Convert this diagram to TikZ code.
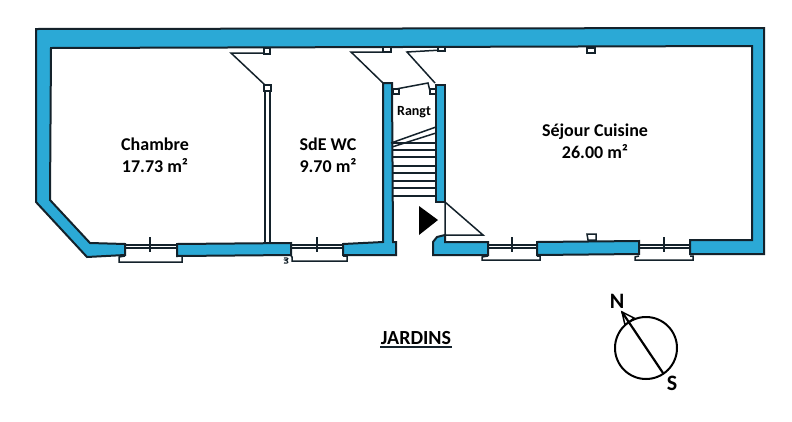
\documentclass[tikz,border=0pt]{standalone}
\usepackage{fontspec}
\setmainfont{Carlito}[Ligatures=TeX]
\definecolor{wallblue}{HTML}{2BA9D6}
\definecolor{ink}{HTML}{14222B}
\tikzset{
  wall/.style={fill=wallblue,draw=ink,line width=2pt,line join=miter},
  thin line/.style={draw=ink,line width=1.5pt},
  fine line/.style={draw=ink,line width=1.1pt},
  jamb/.style={draw=ink,line width=1.5pt,fill=white},
  room/.style={font=\bfseries\fontsize{18}{22}\selectfont,align=center,text=black,inner sep=0pt},
}
\begin{document}
\begin{tikzpicture}[x=1pt,y=-1pt]
\useasboundingbox[fill=white] (0,0) rectangle (792,421);
% walls
\path[wall] (36,29) -- (764,28) -- (764,254) -- (690,254) -- (690,240) -- (752,240) -- (752,46) -- (51,48) -- (50,200) -- (90,243) -- (125,244) -- (125,255) -- (87,257) -- (36,202) -- cycle;
\path[wall] (177,244) -- (291,243) -- (291,255) -- (177,256) -- cycle;
\path[wall] (343,244) -- (383,242) -- (383,83) -- (392,83) -- (393,242) -- (396,242) -- (396,255) -- (343,255) -- cycle;
\path[wall] (436,85) -- (445,85) -- (445,202) -- (436,202) -- cycle;
\path[wall] (433,242) -- (437,237) -- (445,235) -- (445,242) -- (488,242) -- (488,255) -- (433,255) -- cycle;
\path[wall] (537,242) -- (639,241) -- (639,254) -- (537,255) -- cycle;
% windows
\foreach \xa/\xb/\xc/\xd/\xe/\yb in {125/177/150/119/182/262, 291/343/317/292/347/261, 488/537/512/482/540/260, 639/690/664/635/693/260}{
  \draw[fine line] (\xa,245) -- (\xb,245) (\xa,248) -- (\xb,248);
  \draw[thin line] (\xc,237) -- (\xc,252);
  \draw[thin line] (\xa,256) -- (\xd,257) -- (\xd,\yb) -- (\xe,\yb) -- (\xe,256) -- (\xb,256);
}
\draw[fine line] (284,258) .. controls (289,257) and (289,260) .. (285,260) .. controls (289,261) and (289,264) .. (284,263);
% partition and doors
\draw[thin line] (265,87) -- (265,242) (270,87) -- (270,242);
\draw[jamb] (264,85) rectangle (271,91);
\draw[thin line] (267,53) -- (231,53) -- (265,85);
\draw[jamb] (264,48) rectangle (270,54);
\draw[thin line] (383,52) -- (351,52) -- (383,83);
\draw[jamb] (383,47) rectangle (391,52);
\draw[thin line] (442,50) -- (407,52) -- (435,83);
\draw[jamb] (438,47) rectangle (445,51);
\draw[thin line] (396,89) -- (428,83) -- (430,91);
\draw[jamb] (393,89) rectangle (399,94);
\draw[jamb] (430,89) rectangle (436,94);
\draw[jamb] (587,48) rectangle (595,53);
\draw[jamb] (587,234) -- (588,240) -- (596,240) -- (596,234) -- cycle;
% stairs
\draw[thin line] (391,143) -- (436,127) (392,147) -- (436,133);
\foreach \ty in {143,150,157,166,173,181,188,196}{
  \draw[thin line] (393,\ty) -- (435,\ty);
}
% entrance
\draw[thin line] (445,202) -- (445,235) -- (483,235) -- cycle;
\fill[black] (419,206) -- (438,220) -- (419,235) -- cycle;
% text
\node[room] (chambre) at (155,155) {Chambre\\17.73 m²};
\node[room] (sdewc) at (328,155) {SdE WC\\9.70 m²};
\node[room] (sejour) at (595,141) {Séjour Cuisine\\26.00 m²};
\node[inner sep=0pt,font=\bfseries\fontsize{14}{16}\selectfont] (rangt) at (414,112) {Rangt};
\node[inner sep=0pt,font=\bfseries\fontsize{20}{22}\selectfont] (jardins) at (416,338) {JARDINS};
\draw[ink,line width=1.5pt] (380,347) -- (452,347);
% compass
\node[circle,draw=black,line width=2pt,minimum size=62pt,inner sep=0pt] (rose) at (646,348) {};
\coordinate (north) at (622,312);
\coordinate (south) at (663,373);
\draw[black,line width=2.2pt] (north) -- (south);
\draw[black,line width=1.5pt,line join=miter] (north) -- (625,325) -- (634,318) -- cycle;
\node[inner sep=0pt,font=\bfseries\fontsize{22}{24}\selectfont] (nlabel) at (617,301) {N};
\node[inner sep=0pt,font=\bfseries\fontsize{22}{24}\selectfont] (slabel) at (672,383) {S};
\end{tikzpicture}
\end{document}
